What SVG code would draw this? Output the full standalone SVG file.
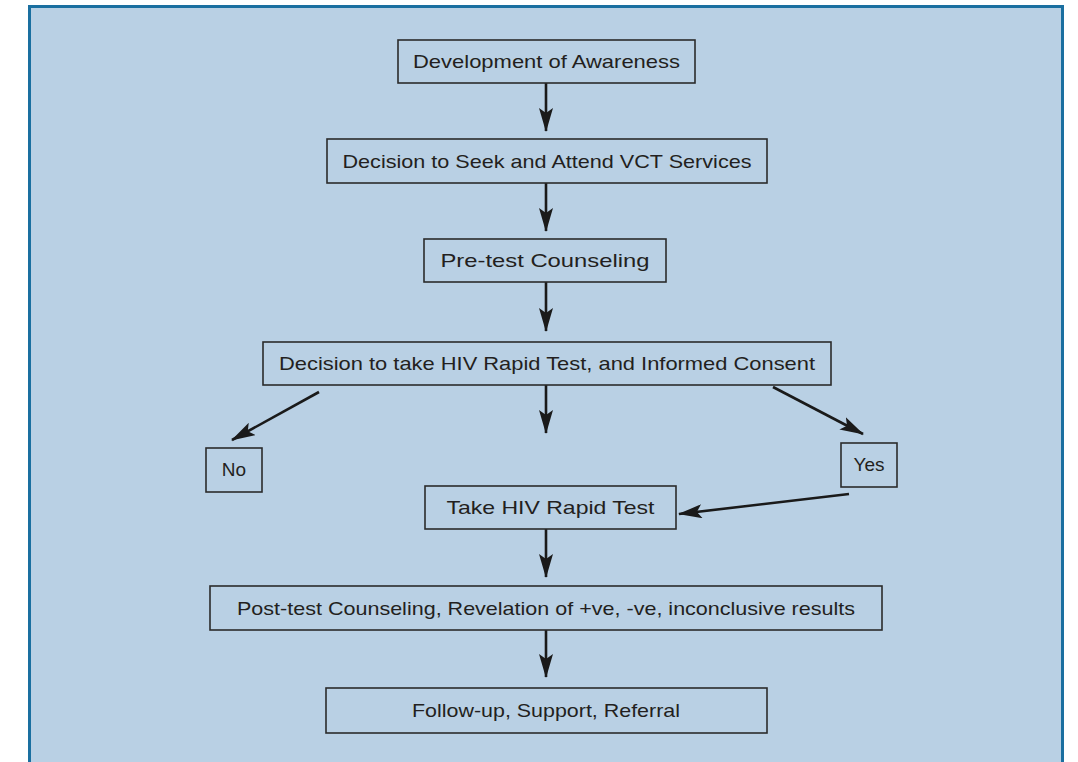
<svg xmlns="http://www.w3.org/2000/svg" width="1078" height="762" viewBox="0 0 1078 762">
<defs>
<style>
.box{fill:none;stroke:#2b2b2b;stroke-width:1.6}
.t{font-family:"Liberation Sans",Arial,sans-serif;font-size:19px;fill:#231f20;text-anchor:middle}
.c{stroke:#1a1a1a;stroke-width:2.6;fill:none}
</style>
<marker id="ah" viewBox="0 0 24 14" refX="23" refY="7" markerWidth="24" markerHeight="14" markerUnits="userSpaceOnUse" orient="auto">
<path d="M0,0 L24,7 L0,14 L5,7 Z" fill="#1a1a1a"/>
</marker>
</defs>
<rect x="0" y="0" width="1078" height="762" fill="#ffffff"/>
<rect x="29.5" y="6.5" width="1033" height="770" fill="#b9d0e4" stroke="#1a6fa0" stroke-width="3"/>
<g id="connectors">
<line class="c" x1="546" y1="83" x2="546" y2="131" marker-end="url(#ah)"/>
<line class="c" x1="546" y1="183" x2="546" y2="231" marker-end="url(#ah)"/>
<line class="c" x1="546" y1="282" x2="546" y2="331" marker-end="url(#ah)"/>
<line class="c" x1="546" y1="385" x2="546" y2="433" marker-end="url(#ah)"/>
<line class="c" x1="319" y1="392" x2="232" y2="440" marker-end="url(#ah)"/>
<line class="c" x1="773" y1="387" x2="863" y2="434" marker-end="url(#ah)"/>
<line class="c" x1="849" y1="494" x2="679" y2="514" marker-end="url(#ah)"/>
<line class="c" x1="546" y1="529" x2="546" y2="577" marker-end="url(#ah)"/>
<line class="c" x1="546" y1="630" x2="546" y2="677" marker-end="url(#ah)"/>
</g>
<g id="n1"><rect class="box" x="398" y="40" width="297" height="43"/><text class="t" x="546.5" y="68" textLength="267" lengthAdjust="spacingAndGlyphs">Development of Awareness</text></g>
<g id="n2"><rect class="box" x="327" y="139" width="440" height="44"/><text class="t" x="547" y="168" textLength="409" lengthAdjust="spacingAndGlyphs">Decision to Seek and Attend VCT Services</text></g>
<g id="n3"><rect class="box" x="424" y="239" width="242" height="43"/><text class="t" x="545" y="267" textLength="209" lengthAdjust="spacingAndGlyphs">Pre-test Counseling</text></g>
<g id="n4"><rect class="box" x="263" y="342" width="568" height="43"/><text class="t" x="547" y="370" textLength="536" lengthAdjust="spacingAndGlyphs">Decision to take HIV Rapid Test, and Informed Consent</text></g>
<g id="n5"><rect class="box" x="206" y="448" width="56" height="44"/><text class="t" x="234" y="476">No</text></g>
<g id="n6"><rect class="box" x="841" y="443" width="56" height="44"/><text class="t" x="869" y="471">Yes</text></g>
<g id="n7"><rect class="box" x="425" y="486" width="251" height="43"/><text class="t" x="550.5" y="514" textLength="208" lengthAdjust="spacingAndGlyphs">Take HIV Rapid Test</text></g>
<g id="n8"><rect class="box" x="210" y="586" width="672" height="44"/><text class="t" x="546" y="615" textLength="618" lengthAdjust="spacingAndGlyphs">Post-test Counseling, Revelation of +ve, -ve, inconclusive results</text></g>
<g id="n9"><rect class="box" x="326" y="688" width="441" height="45"/><text class="t" x="546" y="717" textLength="268" lengthAdjust="spacingAndGlyphs">Follow-up, Support, Referral</text></g>
</svg>
